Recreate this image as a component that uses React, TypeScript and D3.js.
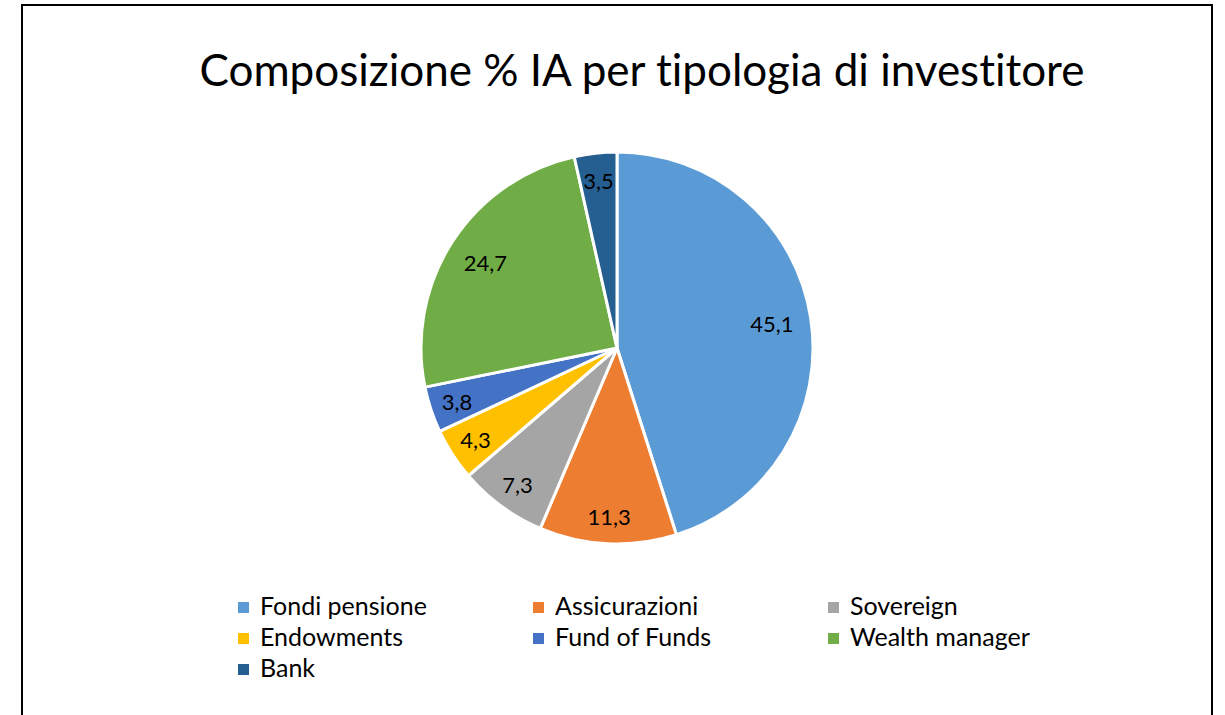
import React from "react";
import * as d3 from "d3";

const categories = ["Fondi pensione", "Assicurazioni", "Sovereign", "Endowments", "Fund of Funds", "Wealth manager", "Bank"];
const values = [45.1, 11.3, 7.3, 4.3, 3.8, 24.7, 3.5];
const colors = ["#5B9BD5", "#ED7D31", "#A5A5A5", "#FFC000", "#4472C4", "#70AD47", "#255E91"];
const title = "Composizione % IA per tipologia di investitore";

const W = 1225;
const H = 715;
const FONT = "Lato, 'Open Sans', sans-serif";

export default function App() {
  const cx = 617;
  const cy = 348;
  const R = 196;
  const pie = d3.pie<number>().sort(null).value((d) => d)(values);
  const arc = d3.arc<d3.PieArcDatum<number>>().innerRadius(0).outerRadius(R);
  const fmt = (v: number) => d3.format(".1f")(v).replace(".", ",");

  const legendX = d3.scaleLinear().domain([0, 1]).range([238, 533]);
  const legendY = d3.scaleLinear().domain([0, 1]).range([607, 638]);

  return (
    <svg width={W} height={H} style={{ position: "absolute", left: 0, top: 0, fontVariantLigatures: "none" }} fontFamily={FONT}>
      <rect x={0} y={0} width={W} height={H} fill="#fff" />
      <rect x={22} y={5} width={1190} height={730} fill="none" stroke="#000" strokeWidth={2} />
      <text x={642} y={86} textAnchor="middle" fontSize={44} fill="#000">{title}</text>
      <g transform={`translate(${cx},${cy})`}>
        {pie.map((p, i) => (
          <path key={i} d={arc(p) || ""} fill={colors[i]} stroke="#fff" strokeWidth={3} strokeLinejoin="round" />
        ))}
        {pie.map((p, i) => {
          const mid = (p.startAngle + p.endAngle) / 2;
          const r = values[i] > 15 ? R * 0.8 : R * 0.86;
          const x = Math.sin(mid) * r;
          const y = -Math.cos(mid) * r;
          return (
            <text key={i} x={x} y={y} textAnchor="middle" dominantBaseline="central" fontSize={22} fill="#000">
              {fmt(values[i])}
            </text>
          );
        })}
      </g>
      <g>
        {categories.map((c, i) => {
          const col = i % 3;
          const row = Math.floor(i / 3);
          const x = legendX(col);
          const y = legendY(row);
          return (
            <g key={c}>
              <rect x={x} y={y - 5} width={11} height={11} fill={colors[i]} />
              <text x={x + 22} y={y + 8} fontSize={25} fill="#000">{c}</text>
            </g>
          );
        })}
      </g>
    </svg>
  );
}
